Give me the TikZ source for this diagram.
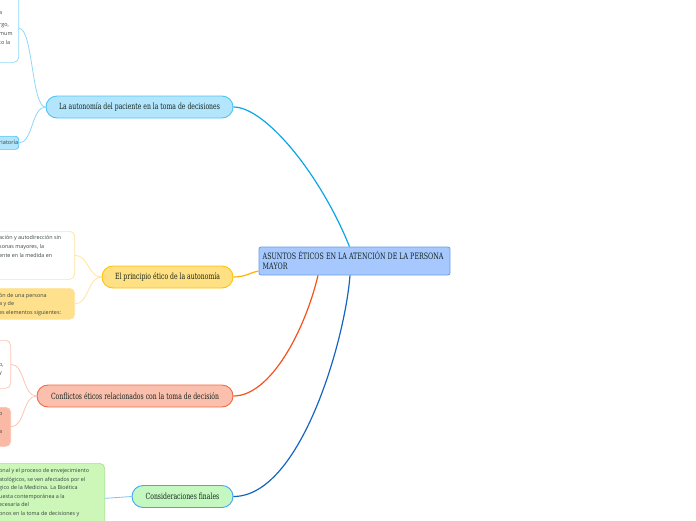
\documentclass[tikz,border=0pt]{standalone}
\usepackage{fontspec}
\newfontfamily\slab[FakeStretch=0.72]{DejaVu Serif}
\newfontfamily\bodyf{Open Sans}
\definecolor{txt}{HTML}{14241E}
\definecolor{cyanL}{HTML}{0AA6E8}
\definecolor{cyanF}{HTML}{B3E5FC}
\definecolor{cyanB}{HTML}{4FC3F7}
\definecolor{cyanT}{HTML}{90D6F7}
\definecolor{rootF}{HTML}{A6C8FF}
\definecolor{rootB}{HTML}{6A9FE6}
\definecolor{ambL}{HTML}{FFB300}
\definecolor{ambF}{HTML}{FFE082}
\definecolor{ambB}{HTML}{FFC107}
\definecolor{ambT}{HTML}{FFE3A3}
\definecolor{ambF2}{HTML}{FFE08C}
\definecolor{redL}{HTML}{F4511E}
\definecolor{redF}{HTML}{FBBFAD}
\definecolor{redB}{HTML}{F26A45}
\definecolor{redT}{HTML}{FBC4B3}
\definecolor{redF2}{HTML}{F9B9A5}
\definecolor{bluL}{HTML}{1565C0}
\definecolor{grnF}{HTML}{C5F7C0}
\definecolor{grnB}{HTML}{42A5F5}
\definecolor{grnF2}{HTML}{CCF7B8}
\definecolor{grnT}{HTML}{A5E68F}
\definecolor{lblue}{HTML}{7CC0F5}
\tikzset{
  pill/.style={draw, line width=0.9pt, rounded corners=11pt, minimum height=22pt, inner sep=0pt, text=txt, font=\slab\fontsize{8.5}{10}\selectfont},
  cbox/.style={draw, line width=0.7pt, rounded corners=5pt, inner sep=0pt},
  ctext/.style={anchor=west, inner sep=0pt, text=txt!85, font=\bodyf\fontsize{5.4}{8.6}\selectfont, align=left},
  link/.style={line width=0.8pt},
  mainlink/.style={line width=1.2pt}
}
\begin{document}
\begin{tikzpicture}[x=1pt,y=-1pt]
\useasboundingbox (0,0) rectangle (696,520);
\clip (0,0) rectangle (696,520);
% root
\node[draw=rootB, fill=rootF, line width=0.8pt, rounded corners=2pt, minimum width=191pt, minimum height=28pt, inner sep=0pt] (root) at (354.5,261) {};
\node[anchor=north west, inner sep=0pt, text=txt, font=\slab\fontsize{8.8}{9.4}\selectfont, align=left] (roottext) at (262.5,251.5) {ASUNTOS ÉTICOS EN LA ATENCIÓN DE LA PERSONA\\MAYOR};
% branch pills
\node[pill, draw=cyanB, fill=cyanF, minimum width=187pt] (p1) at (139.5,107) {La autonomía del paciente en la toma de decisiones};
\node[pill, draw=ambB, fill=ambF, minimum width=131pt] (p2) at (167.5,277) {El principio ético de la autonomía};
\node[pill, draw=redB, fill=redF, minimum width=196pt] (p3) at (135,396) {Conflictos éticos relacionados con la toma de decisión};
\node[pill, draw=grnB, fill=grnF, minimum width=101pt] (p4) at (182.5,496.5) {Consideraciones finales};
% children branch 1
\node[cbox, draw=cyanT, fill=white, minimum width=40pt, minimum height=68pt, anchor=north east] (c11) at (19,-6) {};
\node[ctext] (t11a) at (-1,13) {a};
\node[ctext] (t11b) at (-1,34) {rgo,\\mum\\to la};
\node[cbox, draw=cyanB, fill=cyanF, minimum width=40pt, minimum height=13pt, anchor=north east, rounded corners=3pt] (c12) at (19,136) {};
\node[ctext, font=\bodyf\fontsize{5.6}{7}\selectfont] (t12) at (-1,142.5) {riatoría};
% children branch 2
\node[cbox, draw=ambT, fill=white, minimum width=95pt, minimum height=48pt, anchor=north east] (c21) at (75,231) {};
\node[ctext] (t21) at (-1,246.5) {ación y autodirección sin\\sonas mayores, la\\ente en la medida en};
\node[cbox, draw=ambT, fill=ambF2, minimum width=95pt, minimum height=31pt, anchor=north east] (c22) at (75,288) {};
\node[ctext] (t22) at (-1,304.5) {ón de una persona\\a y de\\es elementos siguientes:};
% children branch 3
\node[cbox, draw=redT, fill=white, minimum width=31pt, minimum height=48pt, anchor=north east] (c31) at (11,340) {};
\node[ctext] (t31) at (-1,369.5) {o,\\y};
\node[cbox, draw=redT!80!redF2, fill=redF2, minimum width=31pt, minimum height=39pt, anchor=north east] (c32) at (11,407) {};
\node[ctext] (t32a) at (-1,414) {o};
\node[ctext] (t32b) at (-1,432) {a};
% child branch 4
\node[cbox, draw=grnT, fill=grnF2, minimum width=125pt, minimum height=70pt, anchor=north east] (c41) at (105,463) {};
\node[ctext] (t41) at (-1,492.5) {onal y el proceso de envejecimiento\\atológicos, se ven afectados por el\\gico de la Medicina. La Bioética\\uesta contemporánea a la\\ecesaria del\\onos en la toma de decisiones y};
% main connectors
\draw[mainlink, cyanL] (p1.east) .. controls +(32,0) and +(-29,-72) .. ([xshift=-5pt]root.north);
\draw[mainlink, ambL] (p2.east) .. controls +(12,0) and +(-10,2) .. ([yshift=-10pt]root.west);
\draw[mainlink, redL] (p3.east) .. controls +(37,0) and +(-13,55) .. ([xshift=-36.5pt]root.south);
\draw[mainlink, bluL] (p4.east) .. controls +(67,0) and +(-5,65) .. ([xshift=-4.5pt]root.south);
% child connectors
\draw[link, cyanT] (p1.west) .. controls +(-14,0) and +(14,0) .. (c11.east);
\draw[link, cyanT] (p1.west) .. controls +(-14,0) and +(14,0) .. (c12.east);
\draw[link, ambT] (p2.west) .. controls +(-14,0) and +(14,0) .. (c21.east);
\draw[link, ambT] (p2.west) .. controls +(-14,0) and +(14,0) .. (c22.east);
\draw[link, redT] (p3.west) .. controls +(-14,0) and +(14,0) .. (c31.east);
\draw[link, redT] (p3.west) .. controls +(-14,0) and +(14,0) .. (c32.east);
\draw[link, lblue] (p4.west) -- (c41.east);
\end{tikzpicture}
\end{document}
